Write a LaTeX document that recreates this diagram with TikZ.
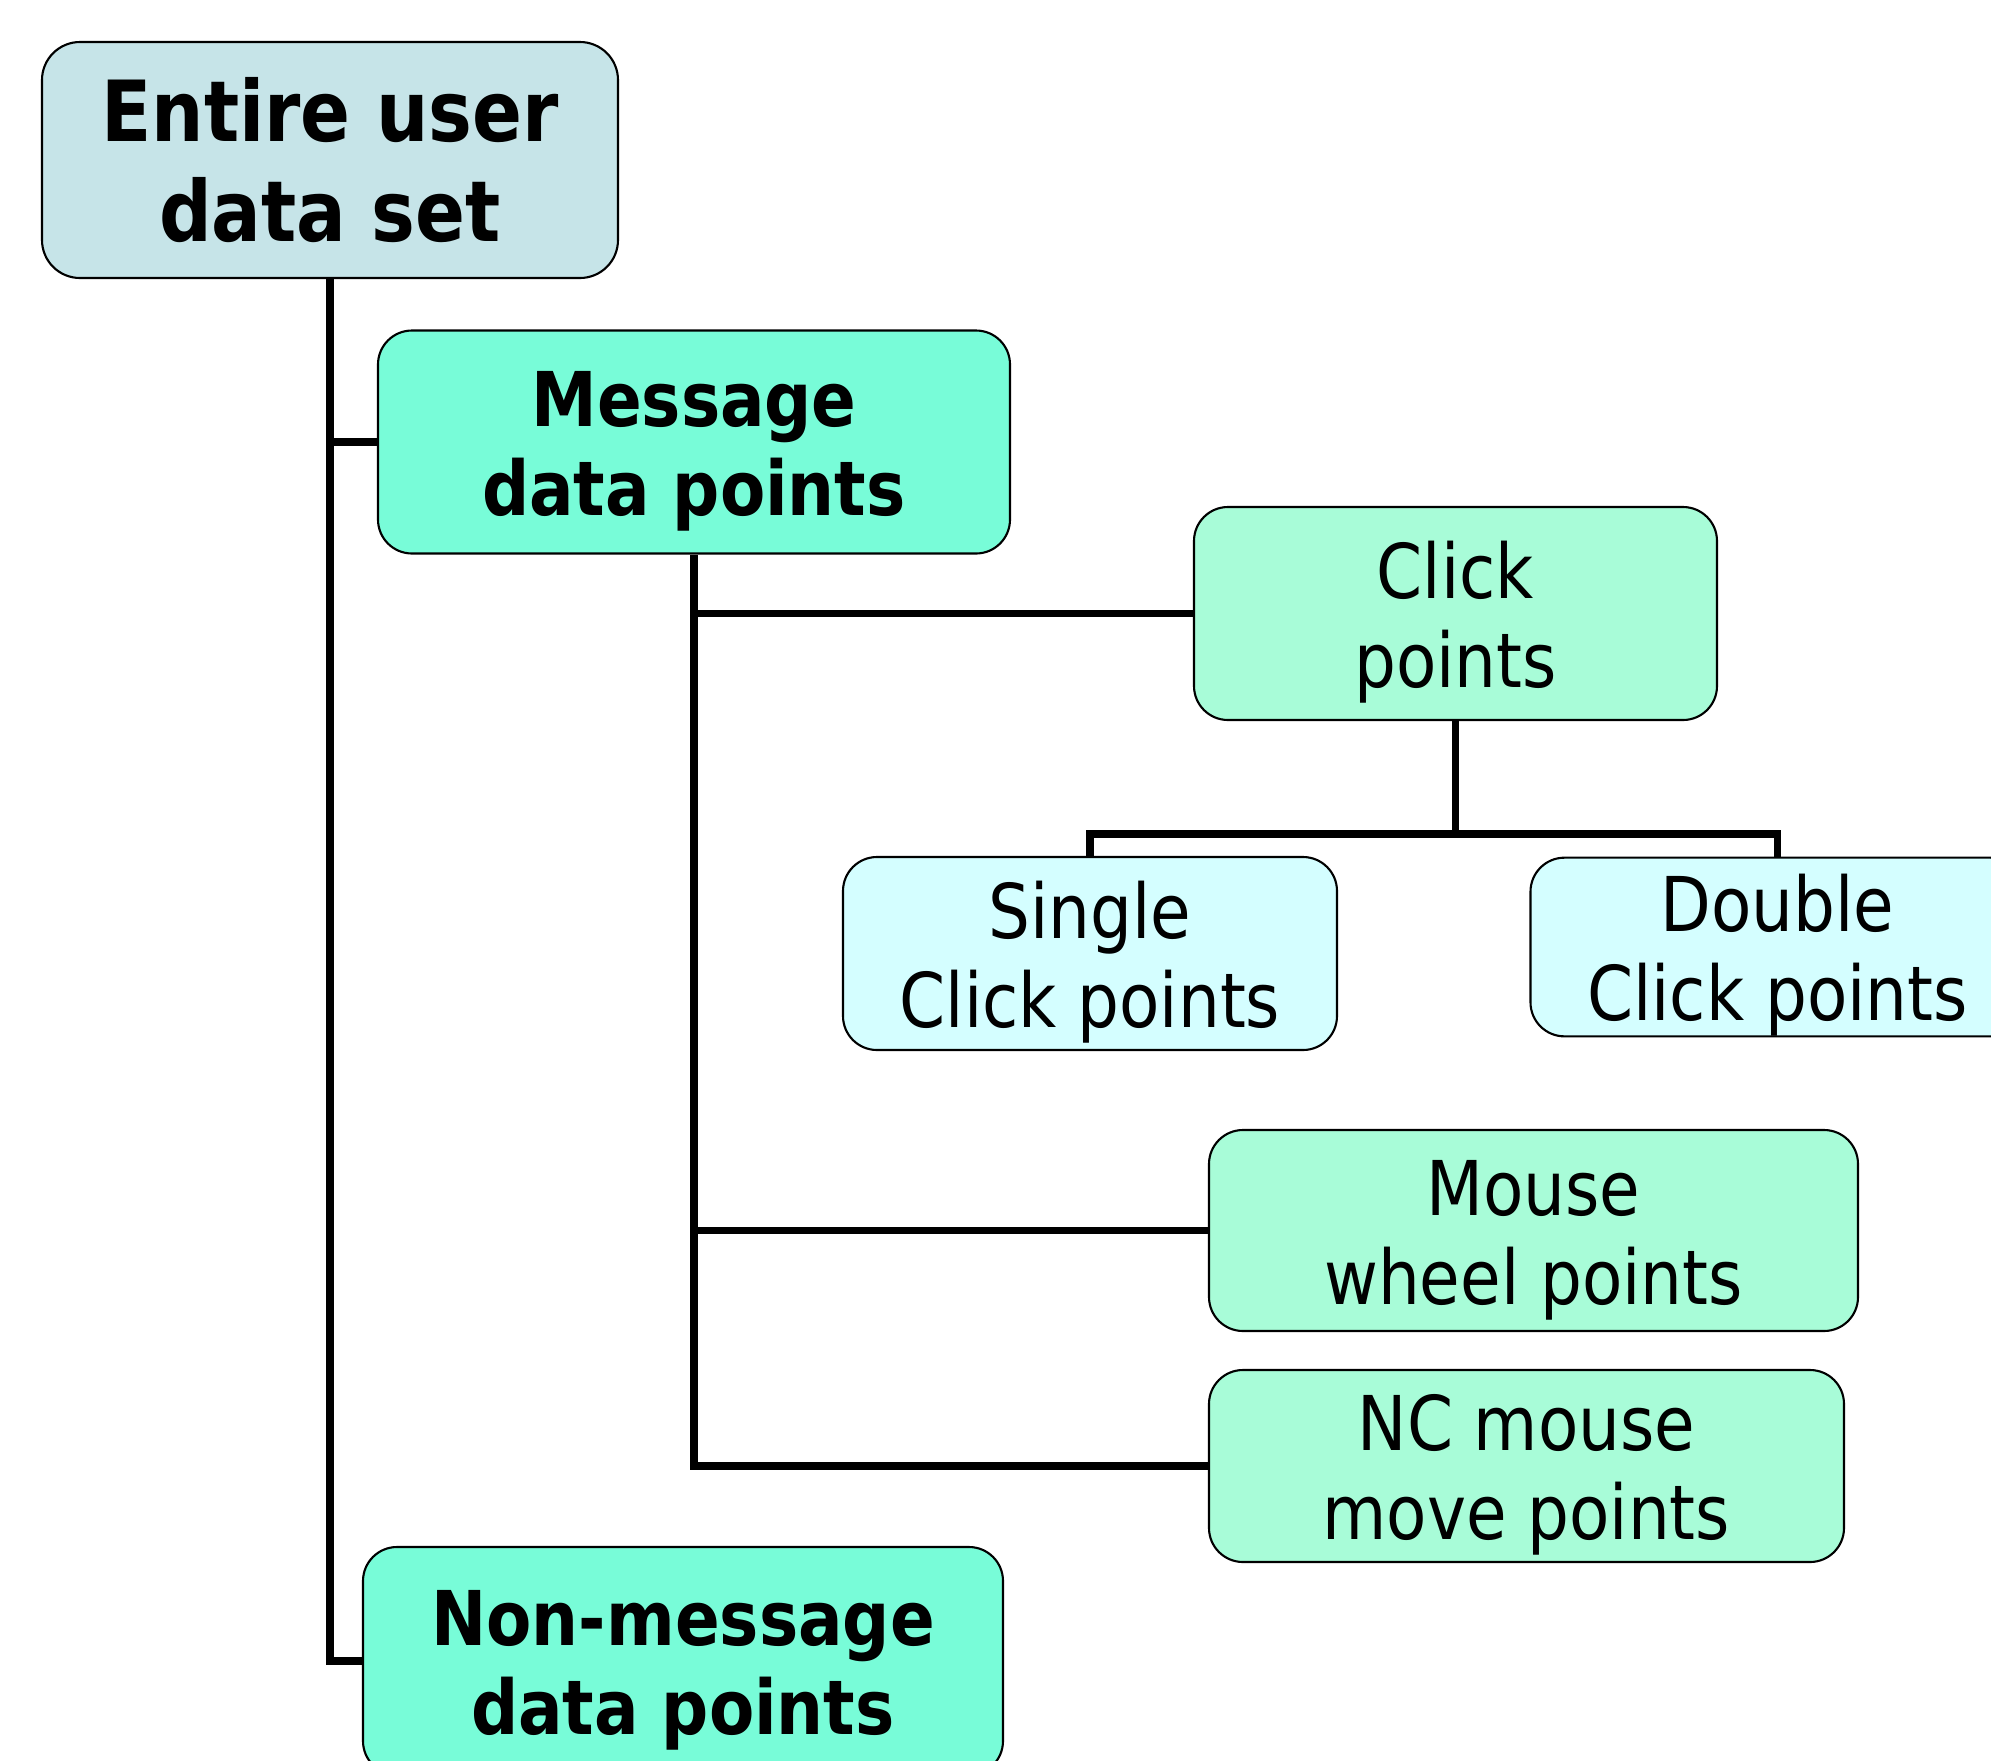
\documentclass[tikz,border=0pt]{standalone}
\usepackage{fontspec}
\setmainfont{DejaVu Sans Condensed}[FakeStretch=0.97]
\usepackage{xcolor}

\definecolor{rootfill}{RGB}{198,228,232}
\definecolor{msgfill}{RGB}{120,252,216}
\definecolor{kindfill}{RGB}{168,252,216}
\definecolor{leaffill}{RGB}{212,254,255}

% taller first line, pushes the text a little down in its box
\newcommand{\tallstrut}{\rule{0pt}{0.98em}}

\begin{document}
\begin{tikzpicture}[
  root/.style={draw, rounded corners=0.38cm, line width=0.6pt, fill=rootfill,
               align=center, minimum width=5.76cm, minimum height=2.36cm,
               font=\fontsize{24}{28.6}\selectfont\bfseries},
  grp/.style={draw, rounded corners=0.34cm, line width=0.6pt, fill=msgfill,
              align=center, minimum width=6.32cm, minimum height=2.23cm, inner ysep=0pt,
              font=\fontsize{21.5}{25.3}\selectfont\bfseries},
  kind/.style={draw, rounded corners=0.34cm, line width=0.6pt, fill=kindfill,
               align=center, inner ysep=0pt, font=\fontsize{21.5}{25.3}\selectfont},
  leaf/.style={draw, rounded corners=0.34cm, line width=0.6pt, fill=leaffill,
               align=center, minimum width=4.94cm, inner ysep=0pt,
               font=\fontsize{21.5}{25.3}\selectfont},
  link/.style={line width=2.1pt}
]
\useasboundingbox (0,0) rectangle (19.91,-17.60);

\node[root] (entire) at (3.30,-1.60) {Entire user\\data set};
\node[grp]  (msg)    at (6.94,-4.42) {\tallstrut Message\\data points};
\node[grp, minimum width=6.40cm, minimum height=2.28cm] (nonmsg) at (6.83,-16.61) {\tallstrut Non-message\\data points};

\node[kind, minimum width=5.23cm, minimum height=2.13cm] (click) at (14.555,-6.135) {\tallstrut Click\\points};
\node[kind, minimum width=6.49cm, minimum height=2.01cm] (wheel) at (15.335,-12.305) {\tallstrut Mouse\\wheel points};
\node[kind, minimum width=6.35cm, minimum height=1.92cm] (move)  at (15.265,-14.66) {\tallstrut NC mouse\\move points};

\node[leaf, minimum height=1.93cm] (single) at (10.90,-9.535) {\tallstrut Single\\Click points};
\node[leaf, minimum height=1.78cm] (double) at (17.775,-9.47) {\tallstrut Double\\Click points};

% top level
\draw[link] (entire.south) |- (nonmsg.west);
\draw[link] (entire.south |- msg.west) -- (msg.west);

% message branches
\draw[link] (msg.south) |- (move.west);
\draw[link] (msg.south |- click.west) -- (click.west);
\draw[link] (msg.south |- wheel.west) -- (wheel.west);

% click split
\draw[link] (click.south) -- ++(0,-1.13) coordinate (fork);
\draw[link] (fork) -| (single.north);
\draw[link] (fork) -| (double.north);
\end{tikzpicture}
\end{document}
